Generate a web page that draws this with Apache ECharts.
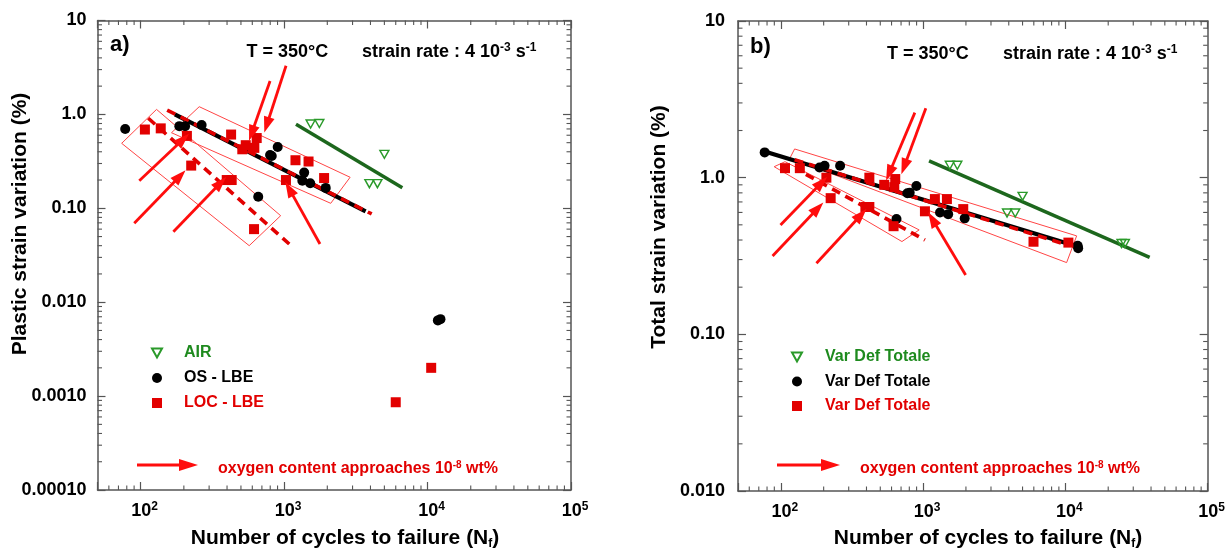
<!DOCTYPE html>
<html>
<head>
<meta charset="utf-8">
<script src="https://cdn.jsdelivr.net/npm/echarts@6/dist/echarts.min.js"></script>
<style>
  html, body { margin: 0; background: #fff; }
  #chart { width: 1228px; height: 553px; }
</style>
</head>
<body>
<div id="chart"></div>
<script>
// data points: [cycles to failure, strain variation (%)]
const plasticAir = [[1530, 0.79], [1760, 0.80], [5000, 0.375], [3930, 0.183], [4470, 0.183]];
const plasticOs = [[78, 0.70], [186, 0.75], [204, 0.75], [266, 0.77], [798, 0.37], [820, 0.36], [902, 0.45],
  [1380, 0.24], [1340, 0.197], [1520, 0.185], [1950, 0.165], [660, 0.133], [11800, 0.0064], [12300, 0.0066]];
const plasticLoc = [[107, 0.69], [138, 0.71], [210, 0.59], [427, 0.61], [540, 0.47], [644, 0.56], [620, 0.44],
  [511, 0.425], [1200, 0.325], [1480, 0.315], [1900, 0.21], [1030, 0.20], [225, 0.285], [398, 0.20], [431, 0.20],
  [617, 0.060], [6000, 0.00086], [10600, 0.0020]];

const totalAir = [[1540, 1.2], [1740, 1.2], [5000, 0.76], [3890, 0.595], [4440, 0.595], [24800, 0.38], [26200, 0.38]];
const totalOs = [[77, 1.45], [187, 1.16], [203, 1.19], [261, 1.19], [897, 0.885], [775, 0.795], [805, 0.80],
  [1315, 0.60], [1500, 0.585], [1960, 0.55], [650, 0.545], [12200, 0.367], [12300, 0.355]];
const totalLoc = [[107, 1.15], [136, 1.15], [209, 1.0], [224, 0.74], [419, 1.0], [393, 0.65], [419, 0.65],
  [533, 0.90], [637, 0.98], [627, 0.87], [620, 0.49], [1030, 0.61], [1210, 0.73], [1470, 0.73], [1915, 0.63],
  [5970, 0.39], [10500, 0.385]];

// fitted lines (end points)
const plasticAirFit = [[1210, 0.785], [6670, 0.166]];
const plasticOsFit = [[173, 1.0], [3700, 0.093]];
const plasticLocFit = [[153, 1.11], [4080, 0.087]];
const plasticLocLowFit = [[113, 0.91], [1086, 0.0417]];
const totalAirFit = [[1101, 1.278], [39100, 0.31]];
const totalOsFit = [[77, 1.47], [12000, 0.365]];
const totalLocFit = [[125, 1.30], [10500, 0.37]];
const totalLocLowFit = [[150, 1.05], [1030, 0.40]];

// outlined zones (corners, closed)
const plasticBoxLow = [[73.7, 0.492], [129, 1.13], [946, 0.0834], [571, 0.040], [73.7, 0.492]];
const plasticBoxHigh = [[164, 0.638], [256, 1.208], [2885, 0.214], [2113, 0.113], [164, 0.638]];
const totalBoxLow = [[89.8, 1.175], [107, 1.265], [938, 0.464], [710, 0.391], [89.8, 1.175]];
const totalBoxHigh = [[125, 1.525], [12000, 0.425], [10200, 0.287], [116, 1.336], [125, 1.525]];

// arrows: [from, to]
const plasticArrows = [
  [[97.8, 0.197], [198, 0.543]], [[90.2, 0.0692], [188, 0.221]], [[169, 0.0563], [361, 0.187]],
  [[1778, 0.0417], [1086, 0.161]], [[798, 2.27], [594, 0.629]], [[1031, 3.30], [757, 0.771]]
];
const totalArrows = [
  [[99.5, 0.499], [193, 0.929]], [[87.5, 0.316], [182, 0.638]], [[178, 0.284], [366, 0.578]],
  [[1990, 0.239], [1161, 0.543]], [[875, 2.6], [578, 1.067]], [[1045, 2.77], [736, 1.175]]
];

// tick labels
const xExponents = [2, 3, 4, 5];
const plasticYLabels = { '-4': '0.00010', '-3': '0.0010', '-2': '0.010', '-1': '0.10', '0': '1.0', '1': '10' };
const totalYLabels = { '-2': '0.010', '-1': '0.10', '0': '1.0', '1': '10' };
const minorSteps = [2, 3, 4, 5, 6, 7, 8, 9];
const xDecades = [10, 100, 1000, 10000];
const plasticYDecades = [0.0001, 0.001, 0.01, 0.1, 1];
const totalYDecades = [0.01, 0.1, 1];

const FONT = '"Liberation Sans", Arial, sans-serif';
const RED = '#e20000';
const ARROW = '#ff0d0d';
const GREEN = '#1e8a1e';
const DKGREEN = '#1d671d';
const AXIS = '#555';

const chart = echarts.init(document.getElementById('chart'));

function minorValues(decades, lo, hi) {
  const out = [];
  decades.forEach(d => minorSteps.forEach(s => {
    const v = d * s;
    if (v > lo && v < hi) out.push(v);
  }));
  return out;
}

function xAxisDef(grid, pos) {
  return {
    type: 'log', logBase: 10, min: 50, max: 100000, gridIndex: grid, position: pos,
    splitLine: { show: false },
    axisLine: { show: true, onZero: false, lineStyle: { color: AXIS, width: 1.5 } },
    axisTick: { show: true, inside: true, length: 8, lineStyle: { color: AXIS, width: 1.2 } },
    axisLabel: {
      show: pos === 'bottom', margin: 11,
      formatter: v => {
        const e = Math.round(Math.log10(v));
        if (Math.abs(Math.log10(v) - e) > 1e-6 || xExponents.indexOf(e) < 0) return '';
        return '{b|10}{s|' + e + '}';
      },
      rich: {
        b: { fontSize: 18, fontWeight: 'bold', fontFamily: FONT, color: '#000', padding: [0, 0, 0, 8], lineHeight: 21 },
        s: { fontSize: 12, fontWeight: 'bold', fontFamily: FONT, color: '#000', verticalAlign: 'top', lineHeight: 12 }
      }
    }
  };
}

function yAxisDef(grid, pos, min, labels, margin) {
  return {
    type: 'log', logBase: 10, min: min, max: 10, gridIndex: grid, position: pos,
    splitLine: { show: false },
    axisLine: { show: true, onZero: false, lineStyle: { color: AXIS, width: 1.5 } },
    axisTick: { show: true, inside: true, length: 8, lineStyle: { color: AXIS, width: 1.2 } },
    axisLabel: {
      show: pos === 'left', margin: margin,
      fontSize: 18, fontWeight: 'bold', fontFamily: FONT, color: '#000',
      formatter: v => {
        const e = Math.round(Math.log10(v));
        if (Math.abs(Math.log10(v) - e) > 1e-6) return '';
        return labels[String(e)] || '';
      }
    }
  };
}

function minorTickSeries(xi, yi, xMinor, yMinor, yRef) {
  const data = xMinor.map(v => [v, yRef, 0]).concat(yMinor.map(v => [100, v, 1]));
  return {
    type: 'custom', xAxisIndex: xi, yAxisIndex: yi, silent: true, z: 5, clip: false,
    data: data,
    renderItem: (params, api) => {
      const cs = params.coordSys;
      const p = api.coord([api.value(0), api.value(1)]);
      const len = 4.5;
      const st = { stroke: AXIS, lineWidth: 1.1 };
      if (api.value(2) === 0) {
        return { type: 'group', children: [
          { type: 'line', shape: { x1: p[0], y1: cs.y + cs.height, x2: p[0], y2: cs.y + cs.height - len }, style: st },
          { type: 'line', shape: { x1: p[0], y1: cs.y, x2: p[0], y2: cs.y + len }, style: st }
        ] };
      }
      return { type: 'group', children: [
        { type: 'line', shape: { x1: cs.x, y1: p[1], x2: cs.x + len, y2: p[1] }, style: st },
        { type: 'line', shape: { x1: cs.x + cs.width, y1: p[1], x2: cs.x + cs.width - len, y2: p[1] }, style: st }
      ] };
    }
  };
}

const TRI = 'path://M0,0L10,0L5,9Z';

function panelSeries(xi, yi, names, air, os, loc, fits, boxes, arrows) {
  const lineBase = { type: 'line', xAxisIndex: xi, yAxisIndex: yi, symbol: 'none', silent: true };
  return [
    Object.assign({}, lineBase, { data: boxes[0], lineStyle: { color: '#ff4545', width: 1 }, z: 1 }),
    Object.assign({}, lineBase, { data: boxes[1], lineStyle: { color: '#ff4545', width: 1 }, z: 1 }),
    Object.assign({}, lineBase, { data: fits[0], lineStyle: { color: DKGREEN, width: 3.5 }, z: 2 }),
    Object.assign({}, lineBase, { data: fits[1], lineStyle: { color: '#000', width: 4.2 }, z: 2 }),
    Object.assign({}, lineBase, { data: fits[2], lineStyle: { color: RED, width: 3.6, type: [9, 6] }, z: 3 }),
    Object.assign({}, lineBase, { data: fits[3], lineStyle: { color: RED, width: 3.6, type: [9, 6] }, z: 3 }),
    {
      name: names[0], type: 'scatter', xAxisIndex: xi, yAxisIndex: yi, data: air, z: 4,
      symbol: TRI, symbolSize: [9, 8],
      itemStyle: { color: 'rgba(255,255,255,0)', borderColor: '#2a9a2a', borderWidth: 1.4, opacity: 1 }
    },
    {
      name: names[1], type: 'scatter', xAxisIndex: xi, yAxisIndex: yi, data: os, z: 4,
      symbol: 'circle', symbolSize: 10, itemStyle: { color: '#000', opacity: 1 }
    },
    {
      name: names[2], type: 'scatter', xAxisIndex: xi, yAxisIndex: yi, data: loc, z: 4,
      symbol: 'rect', symbolSize: 10, itemStyle: { color: RED, opacity: 1 }
    },
    Object.assign({}, lineBase, {
      data: [], z: 6,
      markLine: {
        silent: true, symbol: ['none', 'triangle'], symbolSize: [11, 16],
        label: { show: false },
        lineStyle: { color: ARROW, width: 2.8, type: 'solid', opacity: 1 },
        data: arrows.map(a => [{ coord: a[0] }, { coord: a[1] }])
      }
    })
  ];
}

function supText(main, sup, size) {
  return {
    text: main.map((m, i) => '{m|' + m + '}' + (sup[i] ? '{s|' + sup[i] + '}' : '')).join(''),
    rich: {
      m: { fontSize: size, fontWeight: 'bold', fontFamily: FONT, lineHeight: size + 2 },
      s: { fontSize: Math.round(size * 0.65), fontWeight: 'bold', fontFamily: FONT, verticalAlign: 'top', lineHeight: 12 }
    }
  };
}

function textEl(x, y, style, color, extra) {
  return Object.assign({
    type: 'text', x: x, y: y, silent: true,
    style: Object.assign({ fill: color, verticalAlign: 'middle', align: 'left' }, style)
  }, extra || {});
}

function keyArrow(x0, x1, y) {
  return [
    { type: 'line', silent: true, shape: { x1: x0, y1: y, x2: x1 - 14, y2: y }, style: { stroke: ARROW, lineWidth: 2.8 } },
    { type: 'polygon', silent: true, shape: { points: [[x1 - 19, y - 6], [x1, y], [x1 - 19, y + 6]] }, style: { fill: ARROW } }
  ];
}

const legendText = { fontSize: 16, fontWeight: 'bold', fontFamily: FONT, lineHeight: 16, padding: [0, 0, 0, 17] };

const option = {
  animation: false,
  backgroundColor: '#fff',
  grid: [
    { left: 97.5, top: 20.5, width: 473.5, height: 469.5 },
    { left: 738, top: 21, width: 472, height: 470 }
  ],
  xAxis: [xAxisDef(0, 'bottom'), xAxisDef(0, 'top'), xAxisDef(1, 'bottom'), xAxisDef(1, 'top')],
  yAxis: [
    yAxisDef(0, 'left', 0.0001, plasticYLabels, 11), yAxisDef(0, 'right', 0.0001, plasticYLabels, 11),
    yAxisDef(1, 'left', 0.01, totalYLabels, 13), yAxisDef(1, 'right', 0.01, totalYLabels, 13)
  ],
  legend: [
    {
      left: 151, top: 345, orient: 'vertical', padding: 0, itemWidth: 10, itemHeight: 10, itemGap: 9,
      selectedMode: false, textStyle: legendText,
      data: [
        { name: 'AIR', textStyle: { color: GREEN } },
        { name: 'OS - LBE', textStyle: { color: '#000' } },
        { name: 'LOC - LBE', textStyle: { color: RED } }
      ]
    },
    {
      left: 791, top: 349, orient: 'vertical', padding: 0, itemWidth: 10, itemHeight: 10, itemGap: 8.5,
      selectedMode: false, textStyle: Object.assign({}, legendText, { padding: [0, 0, 0, 18] }),
      formatter: () => 'Var Def Totale',
      data: [
        { name: 'Var Def Totale (air)', textStyle: { color: GREEN } },
        { name: 'Var Def Totale (OS)', textStyle: { color: '#000' } },
        { name: 'Var Def Totale (LOC)', textStyle: { color: RED } }
      ]
    }
  ],
  series: [].concat(
    panelSeries(0, 0, ['AIR', 'OS - LBE', 'LOC - LBE'], plasticAir, plasticOs, plasticLoc,
      [plasticAirFit, plasticOsFit, plasticLocFit, plasticLocLowFit], [plasticBoxLow, plasticBoxHigh], plasticArrows),
    panelSeries(2, 2, ['Var Def Totale (air)', 'Var Def Totale (OS)', 'Var Def Totale (LOC)'], totalAir, totalOs, totalLoc,
      [totalAirFit, totalOsFit, totalLocFit, totalLocLowFit], [totalBoxLow, totalBoxHigh], totalArrows),
    [
      minorTickSeries(0, 0, minorValues(xDecades, 50, 100000), minorValues(plasticYDecades, 0.0001, 10), 1),
      minorTickSeries(2, 2, minorValues(xDecades, 50, 100000), minorValues(totalYDecades, 0.01, 10), 1)
    ]
  ),
  graphic: [].concat(
    [
      textEl(110, 45, { text: 'a)', font: 'bold 22px ' + FONT }, '#000'),
      textEl(750, 47, { text: 'b)', font: 'bold 22px ' + FONT }, '#000'),
      textEl(246.5, 52, { text: 'T = 350°C', font: 'bold 18px ' + FONT }, '#000'),
      textEl(887, 54, { text: 'T = 350°C', font: 'bold 18px ' + FONT }, '#000'),
      textEl(362, 52, supText(['strain rate : 4 10', ' s'], ['-3', '-1'], 18), '#000'),
      textEl(1003, 54, supText(['strain rate : 4 10', ' s'], ['-3', '-1'], 18), '#000'),
      textEl(20, 224, { text: 'Plastic strain variation (%)', font: 'bold 21px ' + FONT, align: 'center' }, '#000',
        { rotation: Math.PI / 2 }),
      textEl(659, 227, { text: 'Total strain variation (%)', font: 'bold 21px ' + FONT, align: 'center' }, '#000',
        { rotation: Math.PI / 2 }),
      textEl(345, 538, {
        text: '{t|Number of cycles to failure (N}{f|f}{t|)}', align: 'center',
        rich: {
          t: { fontSize: 21, fontWeight: 'bold', fontFamily: FONT, lineHeight: 23 },
          f: { fontSize: 12, fontWeight: 'bold', fontFamily: FONT, verticalAlign: 'bottom', lineHeight: 12 }
        }
      }, '#000'),
      textEl(988, 538, {
        text: '{t|Number of cycles to failure (N}{f|f}{t|)}', align: 'center',
        rich: {
          t: { fontSize: 21, fontWeight: 'bold', fontFamily: FONT, lineHeight: 23 },
          f: { fontSize: 12, fontWeight: 'bold', fontFamily: FONT, verticalAlign: 'bottom', lineHeight: 12 }
        }
      }, '#000'),
      textEl(218, 469, supText(['oxygen content approaches 10', ' wt%'], ['-8', ''], 16), RED),
      textEl(860, 469, supText(['oxygen content approaches 10', ' wt%'], ['-8', ''], 16), RED)
    ],
    keyArrow(137, 198, 465),
    keyArrow(777, 840, 465)
  )
};

chart.setOption(option);
</script>
</body>
</html>
